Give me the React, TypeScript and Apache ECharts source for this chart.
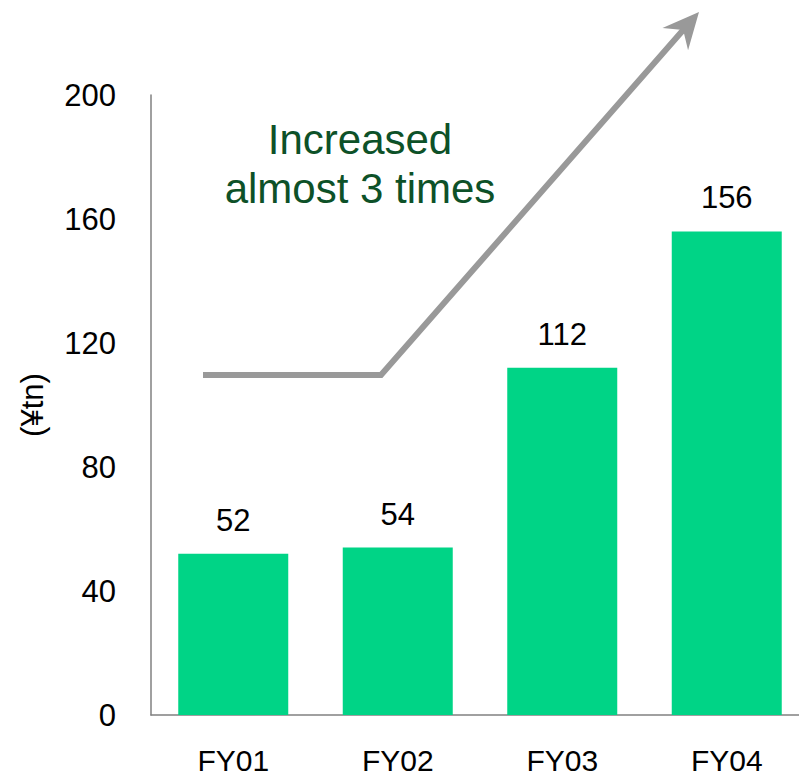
import React, { useEffect, useRef } from "react";
import * as echarts from "echarts";

// Fiscal years and amounts (¥ trillion)
const categories = ["FY01", "FY02", "FY03", "FY04"];
const amounts = [52, 54, 112, 156];
const yTicks = { min: 0, max: 200, interval: 40 };
const annotationLines = ["Increased", "almost 3 times"];
const axisTitle = "(¥tn)";

const FONT = "Arial, 'Liberation Sans', sans-serif";
const BAR_GREEN = "#00D486";
const ARROW_GREY = "#999999";
const NOTE_GREEN = "#0D5128";

export default function App() {
  const ref = useRef<HTMLDivElement>(null);

  useEffect(() => {
    if (!ref.current) return;
    const chart = echarts.init(ref.current, undefined, { renderer: "svg" });

    // Growth arrow: flat segment, then a rising shaft with a notched head
    const tip = [699, 12];
    const corner = [381, 375];
    const dx = tip[0] - corner[0];
    const dy = tip[1] - corner[1];
    const len = Math.hypot(dx, dy);
    const ux = dx / len;
    const uy = dy / len;
    const px = -uy;
    const py = ux;
    const headLen = 36;
    const headHalf = 17;
    const notch = 24;
    const base = [tip[0] - ux * headLen, tip[1] - uy * headLen];
    const notchPt = [tip[0] - ux * notch, tip[1] - uy * notch];
    const wingA = [base[0] + px * headHalf, base[1] + py * headHalf];
    const wingB = [base[0] - px * headHalf, base[1] - py * headHalf];

    chart.setOption({
      animation: false,
      // the plot runs slightly past the right edge of the page
      grid: { left: 151, top: 95, right: 0, bottom: 61 },
      xAxis: {
        type: "category",
        data: categories,
        axisLine: { lineStyle: { color: "#808080", width: 1.5 } },
        axisTick: { show: false },
        axisLabel: {
          color: "#000",
          fontSize: 30,
          lineHeight: 24,
          fontFamily: FONT,
          margin: 33,
        },
      },
      yAxis: {
        type: "value",
        min: yTicks.min,
        max: yTicks.max,
        interval: yTicks.interval,
        name: axisTitle,
        nameLocation: "middle",
        nameGap: 103,
        nameTextStyle: { color: "#000", fontSize: 31, fontFamily: FONT },
        axisLine: { show: true, lineStyle: { color: "#808080", width: 1.5 } },
        axisTick: { show: false },
        splitLine: { show: false },
        axisLabel: { color: "#000", fontSize: 31, fontFamily: FONT, margin: 35 },
      },
      series: [
        {
          type: "bar",
          data: amounts,
          barWidth: 110,
          itemStyle: { color: BAR_GREEN },
          label: {
            show: true,
            position: "top",
            distance: 18,
            color: "#000",
            fontSize: 31,
            fontFamily: FONT,
          },
        },
      ],
      graphic: [
        {
          type: "polyline",
          shape: {
            points: [
              [203, corner[1]],
              corner,
              [notchPt[0] + ux * 2, notchPt[1] + uy * 2],
            ],
          },
          style: { stroke: ARROW_GREY, lineWidth: 6, fill: "none", lineJoin: "miter" },
          z: 10,
        },
        {
          type: "polygon",
          shape: { points: [tip, wingA, notchPt, wingB] },
          style: { fill: ARROW_GREY },
          z: 10,
        },
        {
          type: "text",
          x: 360,
          y: 139,
          style: {
            text: annotationLines[0],
            fill: NOTE_GREEN,
            font: `42px ${FONT}`,
            textAlign: "center",
            textVerticalAlign: "middle",
          },
          z: 11,
        },
        {
          type: "text",
          x: 360,
          y: 188,
          style: {
            text: annotationLines[1],
            fill: NOTE_GREEN,
            font: `42px ${FONT}`,
            textAlign: "center",
            textVerticalAlign: "middle",
          },
          z: 11,
        },
      ],
    });

    return () => chart.dispose();
  }, []);

  return (
    <div style={{ position: "fixed", left: 0, top: 0, width: 799, height: 776, overflow: "hidden", background: "#fff" }}>
      <div ref={ref} style={{ width: 809, height: 776 }} />
    </div>
  );
}
